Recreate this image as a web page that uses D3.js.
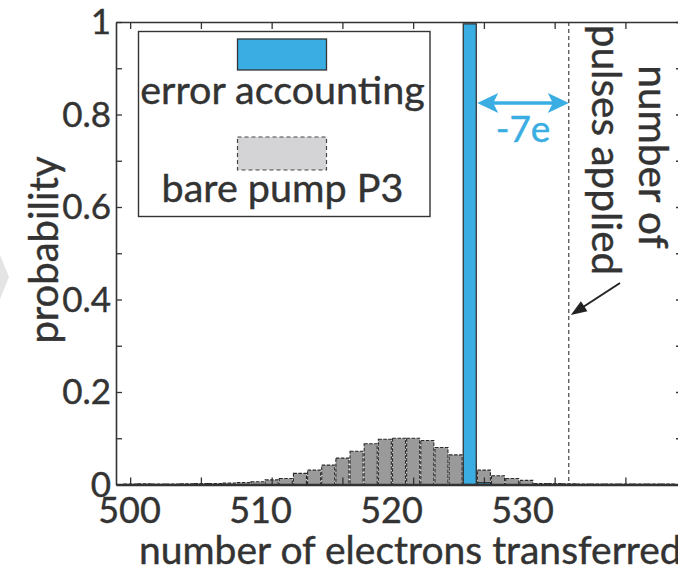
<!DOCTYPE html>
<html>
<head>
<meta charset="utf-8">
<script src="https://cdn.jsdelivr.net/npm/d3@7"></script>
<style>
  body { margin: 0; background: #fff; }
  svg { display: block; }
  text { font-family: Lato, "Open Sans", sans-serif; fill: #333; stroke: #333; stroke-width: 0.4px; }
</style>
</head>
<body>
<svg id="chart" width="678" height="572"></svg>
<script>
// Number of electrons transferred (histogram bins)
const electrons = d3.range(500, 539);
// Probability per bin for the bare pump P3
const barePump = [
  0.001, 0.0015, 0.001, 0.001, 0.0015, 0.002, 0.002, 0.003, 0.004, 0.006,
  0.010, 0.013, 0.024, 0.031, 0.042, 0.057, 0.072, 0.088, 0.098, 0.100,
  0.100, 0.095, 0.080, 0.064, 0.048, 0.031, 0.019, 0.013, 0.009, 0.002,
  0.002, 0.0015, 0.001, 0.001, 0.001, 0.001, 0.001, 0.001, 0.001
];
// Probability per bin with error accounting
const errorBins = [524, 525];
const errorAccounting = [0.996, 0.004];
// Number of pulses applied
const pulsesApplied = 531;
const xTickLabels = [500, 510, 520, 530];
const yTickLabels = [0, 0.2, 0.4, 0.6, 0.8, 1];

const svg = d3.select("#chart");
const ink = "#333";
const blue = "#3aaee3";

const x = d3.scaleLinear().domain([499, 539]).range([116, 682]);
const y = d3.scaleLinear().domain([0, 1]).range([484.5, 22]);
// tick labels along the bottom edge
const xLabel = d3.scaleLinear().domain([500, 530]).range([129, 522]);

const halfBar = 0.46;

// stray mark at the left margin
svg.append("path")
  .attr("d", "M0,255 L9,277 L0,299 Z")
  .attr("fill", "#e4e4e4");

// bare pump bars
svg.append("g")
  .selectAll("rect")
  .data(electrons.map((n, i) => ({ n, p: barePump[i] })))
  .join("rect")
  .attr("x", d => x(d.n - halfBar))
  .attr("width", d => x(d.n + halfBar) - x(d.n - halfBar))
  .attr("y", d => y(d.p))
  .attr("height", d => y(0) - y(d.p))
  .attr("fill", "#9a9a9a")
  .attr("stroke", "#2a2a2a")
  .attr("stroke-width", 1.1)
  .attr("stroke-dasharray", "3.5,1.5");

// error accounting bars
svg.append("g")
  .selectAll("rect")
  .data(errorBins.map((n, i) => ({ n, p: errorAccounting[i] })))
  .join("rect")
  .attr("x", d => x(d.n - halfBar))
  .attr("width", d => x(d.n + halfBar) - x(d.n - halfBar))
  .attr("y", d => y(d.p))
  .attr("height", d => y(0) - y(d.p))
  .attr("fill", blue)
  .attr("stroke", ink)
  .attr("stroke-width", 1.3);

// number of pulses applied
svg.append("line")
  .attr("x1", x(pulsesApplied)).attr("x2", x(pulsesApplied))
  .attr("y1", y(1)).attr("y2", y(0))
  .attr("stroke", ink)
  .attr("stroke-width", 1.1)
  .attr("stroke-dasharray", "4,3");

// axes box with inward ticks
const minorY = d3.range(0, 1.0001, 0.1);
const xTicks = d3.range(500, 539, 5);
function styleAxis(g, w) {
  g.selectAll("path.domain").attr("stroke", ink).attr("stroke-width", w);
  g.selectAll(".tick line").attr("stroke", ink).attr("stroke-width", 1.3);
  g.selectAll(".tick text").remove();
}
svg.append("g").attr("transform", `translate(${x.range()[0]},0)`)
  .call(d3.axisRight(y).tickValues(minorY).tickSize(6).tickSizeOuter(0))
  .call(g => styleAxis(g, 1.6));
svg.append("g").attr("transform", `translate(${x.range()[1]},0)`)
  .call(d3.axisLeft(y).tickValues(minorY).tickSize(6).tickSizeOuter(0))
  .call(g => styleAxis(g, 1.6));
svg.append("g").attr("transform", `translate(0,${y(1)})`)
  .call(d3.axisBottom(x).tickValues(xTicks).tickSize(7).tickSizeOuter(0))
  .call(g => styleAxis(g, 1.6));
svg.append("g").attr("transform", `translate(0,${y(0)})`)
  .call(d3.axisTop(x).tickValues(xTicks).tickSize(7).tickSizeOuter(0))
  .call(g => styleAxis(g, 2.6));

// tick labels
const yl = svg.append("g").attr("transform", `translate(${x.range()[0]},0)`)
  .call(d3.axisLeft(y).tickValues(yTickLabels).tickSize(0).tickPadding(5)
    .tickFormat(d3.format("~g")));
yl.select("path.domain").remove();
yl.selectAll("text").attr("font-size", 35).attr("font-family", "Lato, sans-serif")
  .attr("fill", ink).attr("dy", "0.34em");

const xl = svg.append("g").attr("transform", `translate(0,${y(0)})`)
  .call(d3.axisBottom(xLabel).tickValues(xTickLabels).tickSize(0).tickPadding(13)
    .tickFormat(d3.format("d")));
xl.select("path.domain").remove();
xl.selectAll("text").attr("font-size", 36).attr("font-family", "Lato, sans-serif").attr("fill", ink);

// axis titles
svg.append("text")
  .attr("x", 139).attr("y", 564)
  .attr("font-size", 39)
  .text("number of electrons transferred");
svg.append("text")
  .attr("transform", "translate(58,250) rotate(-90)")
  .attr("text-anchor", "middle")
  .attr("font-size", 40)
  .text("probability");

// legend
const lg = svg.append("g");
lg.append("rect").attr("x", 138.5).attr("y", 31.5).attr("width", 291.5).attr("height", 185)
  .attr("fill", "#fff").attr("stroke", ink).attr("stroke-width", 1.4);
lg.append("rect").attr("x", 237.5).attr("y", 39).attr("width", 89).attr("height", 31)
  .attr("fill", blue).attr("stroke", ink).attr("stroke-width", 1.3);
lg.append("text").attr("x", 282.5).attr("y", 104).attr("text-anchor", "middle")
  .attr("font-size", 39.5).text("error accounting");
lg.append("rect").attr("x", 237.5).attr("y", 137).attr("width", 89).attr("height", 33)
  .attr("fill", "#d4d4d6").attr("stroke", "#444").attr("stroke-width", 1.2)
  .attr("stroke-dasharray", "4,3");
lg.append("text").attr("x", 282.5).attr("y", 202).attr("text-anchor", "middle")
  .attr("font-size", 39.5).text("bare pump P3");

// offset arrow between the peak and the pulse count
const arrowY = y(0.825);
const ax1 = x(errorBins[0] + halfBar) + 1, ax2 = x(pulsesApplied);
svg.append("line")
  .attr("x1", ax1 + 10).attr("x2", ax2 - 10)
  .attr("y1", arrowY).attr("y2", arrowY)
  .attr("stroke", blue).attr("stroke-width", 3.5);
svg.append("path")
  .attr("d", `M${ax1},${arrowY} L${ax1 + 21},${arrowY - 10} L${ax1 + 16},${arrowY} L${ax1 + 21},${arrowY + 10} Z`)
  .attr("fill", blue);
svg.append("path")
  .attr("d", `M${ax2},${arrowY} L${ax2 - 21},${arrowY - 10} L${ax2 - 16},${arrowY} L${ax2 - 21},${arrowY + 10} Z`)
  .attr("fill", blue);
svg.append("text")
  .attr("x", (ax1 + ax2) / 2).attr("y", arrowY + 39)
  .attr("text-anchor", "middle")
  .attr("font-size", 37)
  .style("fill", blue)
  .style("stroke", blue)
  .text("-7e");

// pulse count annotation
svg.append("text")
  .attr("transform", "translate(639,157) rotate(90)")
  .attr("text-anchor", "middle")
  .attr("font-size", 40.5)
  .text("number of");
svg.append("text")
  .attr("transform", "translate(592,150) rotate(90)")
  .attr("text-anchor", "middle")
  .attr("font-size", 40.5)
  .text("pulses applied");
const tipX = x(pulsesApplied) + 2, tipY = 315;
svg.append("line")
  .attr("x1", 620).attr("y1", 283).attr("x2", tipX + 10).attr("y2", tipY - 6.5)
  .attr("stroke", "#222").attr("stroke-width", 2);
svg.append("path")
  .attr("d", (() => {
    const dx = 620 - tipX, dy = 283 - tipY, L = Math.hypot(dx, dy);
    const ux = dx / L, uy = dy / L, px = -uy, py = ux;
    const bx = tipX + ux * 16, by = tipY + uy * 16;
    return `M${tipX},${tipY} L${bx + px * 6},${by + py * 6} L${bx - px * 6},${by - py * 6} Z`;
  })())
  .attr("fill", "#222");
</script>
</body>
</html>
